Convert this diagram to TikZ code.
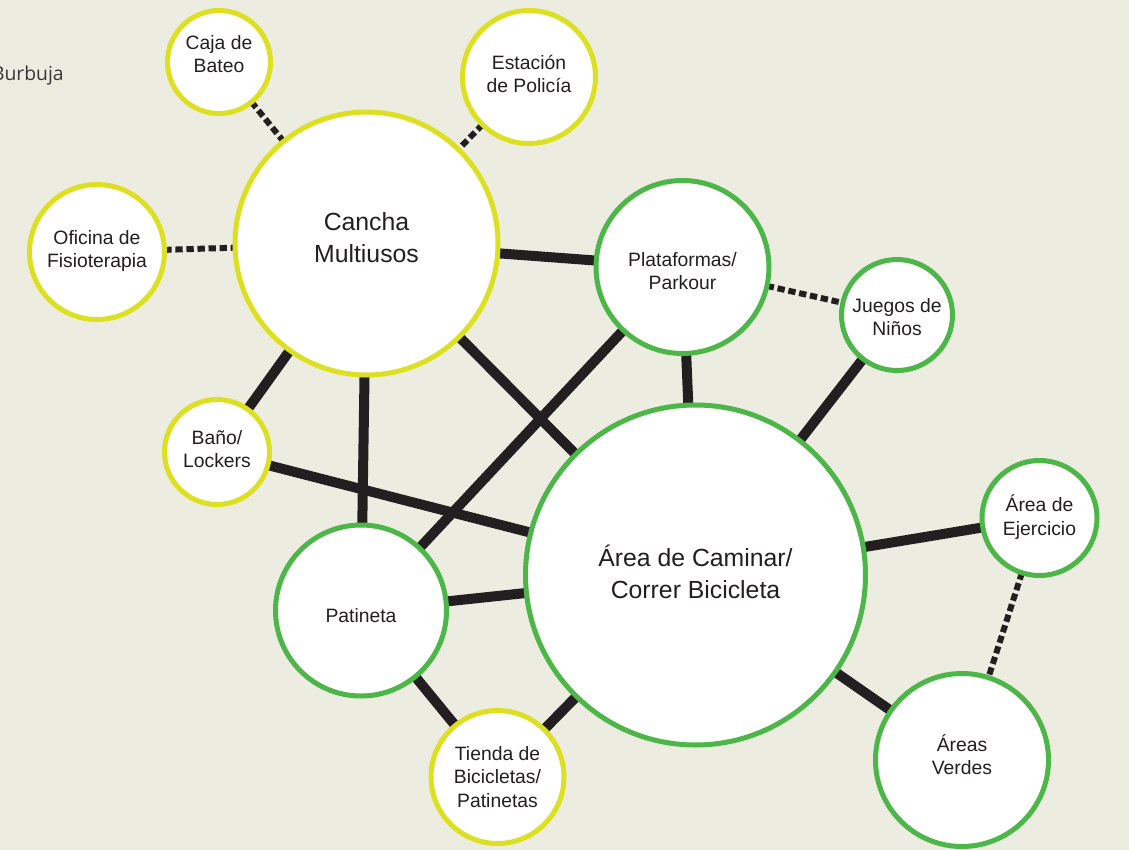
\documentclass[tikz,border=0pt]{standalone}
\usepackage{fontspec}
\setmainfont{Liberation Sans}
\newfontfamily\burbujafont{Open Sans}
\usetikzlibrary{backgrounds}

\definecolor{fondo}{RGB}{236,237,224}
\definecolor{amarillo}{RGB}{220,224,32}
\definecolor{verde}{RGB}{76,182,72}
\definecolor{linea}{RGB}{35,31,32}

\tikzset{
  burbuja/.style={circle,fill=white,line width=3.75pt,inner sep=0pt},
  radio/.style={minimum size={(2*#1-5)*0.75pt}},
  amarilla/.style={burbuja,draw=amarillo},
  verdosa/.style={burbuja,draw=verde},
  rotulo/.style={align=center,inner sep=0pt,text=linea,
    font=\fontsize{14.5}{17.5}\selectfont},
  grande/.style={font=\fontsize{18.6}{23.6}\selectfont},
  fuerte/.style={draw=linea,line width=7.5pt,shorten <=-3pt,shorten >=-3pt},
  debil/.style={draw=linea,line width=4.5pt,dash pattern=on 5.5pt off 2.8pt,
    shorten <=-2pt,shorten >=-2pt},
}

\begin{document}
\begin{tikzpicture}[x=0.75pt,y=-0.75pt]
  \useasboundingbox (0,0) rectangle (1129,850);
  \begin{pgfonlayer}{background}
    \fill[fondo] (0,0) rectangle (1129,850);
  \end{pgfonlayer}

  \node[anchor=base east,inner sep=0pt,text=linea!90,
    font=\burbujafont\fontsize{14.5}{17.5}\selectfont] (titulo) at (64,80) {Burbuja};

  % burbujas amarillas
  \node[amarilla,radio=54,label={[rotulo,yshift=6pt]center:{Caja de\\Bateo}}]
    (caja) at (219,62) {};
  \node[amarilla,radio=69,label={[rotulo,yshift=2.25pt]center:{Estación\\de Policía}}]
    (policia) at (529,77) {};
  \node[amarilla,radio=70,label={[rotulo,yshift=0.75pt]center:{Oficina de\\Fisioterapia}}]
    (oficina) at (97,252) {};
  \node[amarilla,radio=134,label={[rotulo,grande,yshift=4.5pt]center:{Cancha\\Multiusos}}]
    (cancha) at (366.5,243.5) {};
  \node[amarilla,radio=55,label={[rotulo,yshift=2pt]center:{Baño/\\Lockers}}]
    (bano) at (217,452) {};
  \node[amarilla,radio=69,label={[rotulo]center:{Tienda de\\Bicicletas/\\Patinetas}}]
    (tienda) at (497.5,777) {};

  % burbujas verdes
  \node[verdosa,radio=89,label={[rotulo,yshift=-3pt]center:{Plataformas/\\Parkour}}]
    (parkour) at (682.5,267) {};
  \node[verdosa,radio=58,label={[rotulo,yshift=-1.5pt]center:{Juegos de\\Niños}}]
    (juegos) at (897,315) {};
  \node[verdosa,radio=172.5,label={[rotulo,grande,yshift=2.25pt]center:{Área de Caminar/\\Correr Bicicleta}}]
    (caminar) at (695.5,575) {};
  \node[verdosa,radio=60,label={[rotulo,yshift=0.75pt]center:{Área de\\Ejercicio}}]
    (ejercicio) at (1039.5,518) {};
  \node[verdosa,radio=88,label={[rotulo,yshift=-3.75pt]center:{Patineta}}]
    (patineta) at (361,610.5) {};
  \node[verdosa,radio=89,label={[rotulo,yshift=4pt]center:{Áreas\\Verdes}}]
    (verdes) at (962,760) {};

  \begin{pgfonlayer}{background}
    % relaciones fuertes
    \foreach \a/\b in {cancha/parkour,cancha/bano,cancha/patineta,cancha/caminar,
      parkour/patineta,parkour/caminar,juegos/caminar,bano/caminar,
      caminar/ejercicio,caminar/verdes,patineta/caminar,patineta/tienda,
      tienda/caminar}{%
      \draw[fuerte] (\a) -- (\b);
    }
    % relaciones debiles
    \foreach \a/\b in {caja/cancha,policia/cancha,oficina/cancha,
      parkour/juegos,ejercicio/verdes}{%
      \draw[debil] (\a) -- (\b);
    }
  \end{pgfonlayer}
\end{tikzpicture}
\end{document}
